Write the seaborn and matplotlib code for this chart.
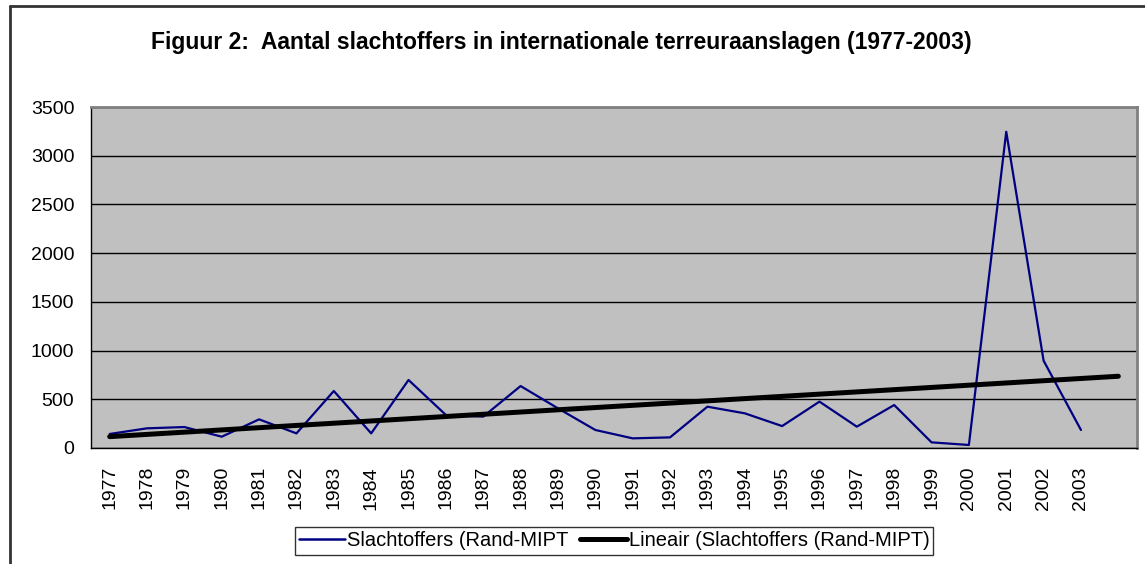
import numpy as np
import pandas as pd
import matplotlib
matplotlib.use('Agg')
import matplotlib.pyplot as plt
import seaborn as sns
from matplotlib.lines import Line2D
from matplotlib.ticker import FixedLocator

# Données (slachtoffers per jaar)
years = [1977, 1978, 1979, 1980, 1981, 1982, 1983, 1984, 1985, 1986, 1987, 1988, 1989,
         1990, 1991, 1992, 1993, 1994, 1995, 1996, 1997, 1998, 1999, 2000, 2001, 2002, 2003]
victims = [144, 202, 215, 116, 294, 150, 585, 150, 698, 339, 322, 636, 407,
           185, 99, 109, 424, 356, 225, 476, 219, 441, 58, 31, 3246, 896, 185]
tick_labels = [str(y) for y in years] + ['']  # catégorie vide pour la tendance
y_ticks = [0, 500, 1000, 1500, 2000, 2500, 3000, 3500]

title = 'Figuur 2:  Aantal slachtoffers in internationale terreuraanslagen (1977-2003)'
label_series = 'Slachtoffers (Rand-MIPT'
label_trend = 'Lineair (Slachtoffers (Rand-MIPT)'

sns.set_style('white')
plt.rcParams['font.family'] = ['Liberation Sans', 'DejaVu Sans']
plt.rcParams['text.color'] = 'black'
plt.rcParams['xtick.color'] = 'black'
plt.rcParams['ytick.color'] = 'black'
plt.rcParams['xtick.labelcolor'] = 'black'
plt.rcParams['ytick.labelcolor'] = 'black'

df = pd.DataFrame({'pos': np.arange(len(years)), 'victims': victims})

# Tendance linéaire (comme Excel), prolongée d'une catégorie
coef = np.polyfit(df['pos'], df['victims'], 1)
trend = pd.DataFrame({'pos': np.arange(len(tick_labels))})
trend['value'] = np.polyval(coef, trend['pos'])

W, H = 1145, 564
fig = plt.figure(figsize=(W / 100, H / 100), dpi=100)
ax = fig.add_axes([91 / W, 1 - 448 / H, (1137 - 91) / W, (448 - 107) / H])
ax.set_facecolor('#C0C0C0')

sns.lineplot(data=df, x='pos', y='victims', ax=ax, color='#000080', linewidth=1.6, zorder=3)
sns.lineplot(data=trend, x='pos', y='value', ax=ax, color='black', linewidth=3.6,
             zorder=4, solid_capstyle='round')

ax.set_xlim(-0.5, len(tick_labels) - 0.5)
ax.set_ylim(0, 3500)
ax.set_xlabel('')
ax.set_ylabel('')

# grille horizontale noire
ax.set_yticks(y_ticks)
ax.yaxis.grid(True, color='black', linewidth=1.0)
ax.set_axisbelow(True)
ax.tick_params(axis='y', direction='out', length=6, width=1, color='black',
               labelsize=14, pad=6)

# x : traits aux limites des catégories, étiquettes au centre
ax.xaxis.set_major_locator(FixedLocator(np.arange(len(tick_labels) + 1) - 0.5))
ax.set_xticklabels([])
ax.xaxis.set_minor_locator(FixedLocator(np.arange(len(tick_labels))))
ax.set_xticklabels(tick_labels, minor=True, rotation=90, fontsize=14)
ax.tick_params(axis='x', which='major', direction='out', length=6, width=1, color='black')
ax.tick_params(axis='x', which='minor', length=0, pad=13)

for side in ['left', 'bottom']:
    ax.spines[side].set_color('black')
    ax.spines[side].set_linewidth(1.0)
for side in ['top', 'right']:
    ax.spines[side].set_color('#808080')
    ax.spines[side].set_linewidth(2.0)

fig.text(561 / W, 1 - 42 / H, title, ha='center', va='center', fontsize=16.5,
         fontweight='bold')

handles = [Line2D([], [], color='#000080', linewidth=1.8),
           Line2D([], [], color='black', linewidth=3.6)]
leg = fig.legend(handles, [label_series, label_trend], loc='center',
                 bbox_to_anchor=(614 / W, 1 - 541 / H), ncol=2, fontsize=14.5,
                 frameon=True, fancybox=False, shadow=False, handlelength=2.3,
                 handletextpad=0.1, columnspacing=0.6, borderpad=0.2,
                 borderaxespad=0)
leg.get_frame().set_edgecolor('black')
leg.get_frame().set_linewidth(1.0)

# cadre du graphique (bord gauche et haut visibles)
fig.add_artist(Line2D([10 / W, 10 / W], [0, 1 - 6 / H], color='#333333', linewidth=2,
                      transform=fig.transFigure))
fig.add_artist(Line2D([10 / W, 1], [1 - 6 / H, 1 - 6 / H], color='#333333', linewidth=2,
                      transform=fig.transFigure))

fig.savefig('out.png', dpi=100)
